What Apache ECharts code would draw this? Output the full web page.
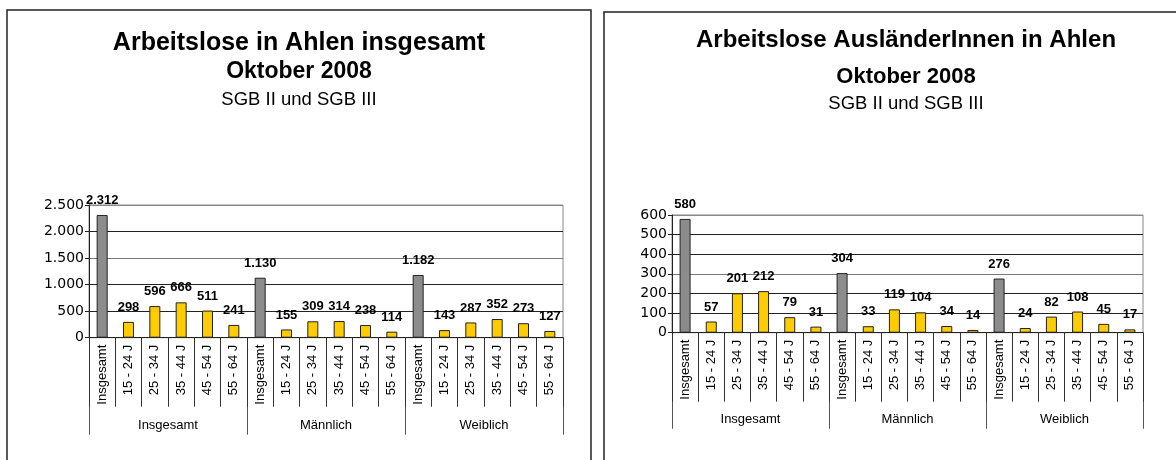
<!DOCTYPE html>
<html>
<head>
<meta charset="utf-8">
<script src="https://cdn.jsdelivr.net/npm/echarts@6/dist/echarts.min.js"></script>
<style>
html,body{margin:0;padding:0;background:#fff;}
#chart{width:1176px;height:460px;}
</style>
</head>
<body>
<div id="chart"></div>
<script>
// ---- data ----
const categories = ['Insgesamt','15 - 24 J','25 - 34 J','35 - 44 J','45 - 54 J','55 - 64 J',
                    'Insgesamt','15 - 24 J','25 - 34 J','35 - 44 J','45 - 54 J','55 - 64 J',
                    'Insgesamt','15 - 24 J','25 - 34 J','35 - 44 J','45 - 54 J','55 - 64 J'];
const groups = ['Insgesamt','Männlich','Weiblich'];
const leftValues  = [2312,298,596,666,511,241, 1130,155,309,314,238,114, 1182,143,287,352,273,127];
const rightValues = [580,57,201,212,79,31, 304,33,119,104,34,14, 276,24,82,108,45,17];
const leftAxis  = {min:0, max:2500, interval:500};
const rightAxis = {min:0, max:600, interval:100};
const leftTitle  = ['Arbeitslose in Ahlen insgesamt','Oktober 2008','SGB II und SGB III'];
const rightTitle = ['Arbeitslose AusländerInnen in Ahlen','Oktober 2008','SGB II und SGB III'];

// ---- helpers ----
const FONT = '"Liberation Sans", Arial, sans-serif';
function de(v){ return String(v).replace(/\B(?=(\d{3})+(?!\d))/g,'.'); }
function barData(vals){
  return vals.map((v,i)=>({value:v, itemStyle:{color: i%6===0 ? '#8c8c8c' : '#ffcc00'}}));
}
function catAxis(gi){
  return {
    type:'category', gridIndex:gi, data:categories, position:'bottom',
    axisLine:{show:true, lineStyle:{color:'#222', width:1}},
    axisTick:{show:true, length:69, lineStyle:{color:'#333', width:1}},
    axisLabel:{interval:0, rotate:90, margin:7, fontSize:13, color:'#000', fontFamily:FONT},
    z:5
  };
}
function groupAxis(gi, len, margin){
  return {
    type:'category', gridIndex:gi, data:groups, position:'bottom',
    axisLine:{show:false},
    axisTick:{show:true, length:len, lineStyle:{color:'#555', width:1}},
    axisLabel:{interval:0, margin:margin, fontSize:13, color:'#000', fontFamily:FONT}
  };
}
function valAxis(gi, cfg, lineColors){
  return {
    type:'value', gridIndex:gi, min:cfg.min, max:cfg.max, interval:cfg.interval,
    axisLine:{show:true, lineStyle:{color:'#222', width:1}},
    axisTick:{show:true, length:4, lineStyle:{color:'#222'}},
    axisLabel:{formatter:de, fontSize:14, color:'#000', fontFamily:'"DejaVu Sans", sans-serif', margin:5},
    splitLine:{show:true, lineStyle:{color:lineColors, width:1}}
  };
}
function barSeries(xi, yi, vals){
  return {
    type:'bar', xAxisIndex:xi, yAxisIndex:yi, data:barData(vals), barWidth:11,
    itemStyle:{borderColor:'#222', borderWidth:1},
    label:{show:true, position:'top', distance:8, formatter:p=>de(p.value),
      fontSize:13, fontWeight:'bold', color:'#000', fontFamily:FONT},
    z:3
  };
}
function titleTexts(lines, cx, ys, sizes){
  return lines.map((t,i)=>({
    type:'text', x:cx, y:ys[i], z:10,
    style:{text:t, textAlign:'center', textVerticalAlign:'middle', fill:'#000',
      font:(i<2?'bold ':'')+sizes[i]+'px '+FONT}
  }));
}

const chart = echarts.init(document.getElementById('chart'), null, {renderer:'canvas'});
chart.setOption({
  backgroundColor:'#fff',
  animation:false,
  grid:[
    {left:89, top:205, width:474, height:132.7, show:true, borderColor:'#888', borderWidth:1, backgroundColor:'transparent'},
    {left:672, top:215, width:471, height:117.7, show:true, borderColor:'#888', borderWidth:1, backgroundColor:'transparent'}
  ],
  xAxis:[catAxis(0), groupAxis(0, 97, 81), catAxis(1), groupAxis(1, 96, 80)],
  yAxis:[
    valAxis(0, leftAxis, ['#222','#222','#222','#777','#222','#888']),
    valAxis(1, rightAxis, ['#222','#222','#222','#777','#222','#222','#888'])
  ],
  series:[barSeries(0,0,leftValues), barSeries(2,1,rightValues)],
  graphic:[
    {type:'rect', shape:{x:7, y:10, width:584, height:470}, style:{fill:'none', stroke:'#222', lineWidth:1.5}, z:1},
    {type:'rect', shape:{x:604, y:12, width:620, height:470}, style:{fill:'none', stroke:'#222', lineWidth:1.5}, z:1},
    ...titleTexts(leftTitle, 299, [43.5, 72, 99.5], [25, 23, 18.5]),
    ...titleTexts(rightTitle, 906, [40, 76.5, 103.5], [24, 22, 18.5])
  ]
});
</script>
</body>
</html>
